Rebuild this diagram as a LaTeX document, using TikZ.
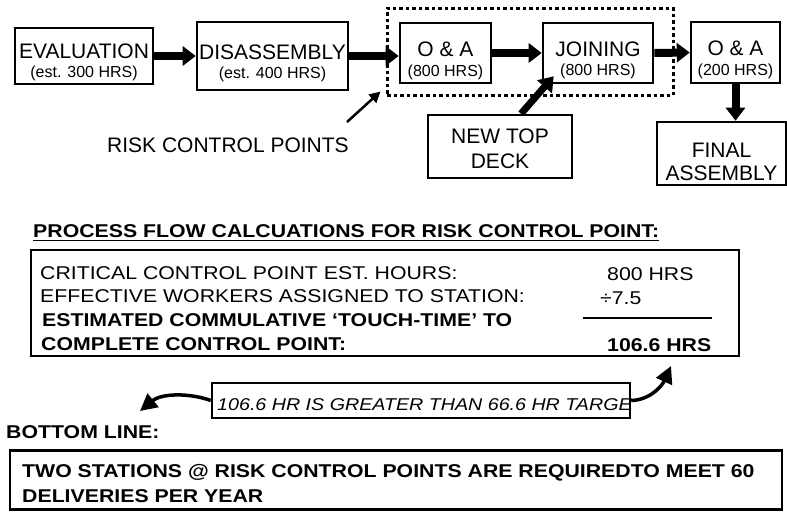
\documentclass[tikz,border=0pt]{standalone}
\usepackage{fontspec}
\setmainfont{Liberation Sans}
\newfontfamily\lowfont[FakeStretch=1.15]{Liberation Sans}
\usetikzlibrary{arrows.meta}
\tikzset{
  box/.style={draw, line width=2.6pt, inner sep=0pt},
  big/.style={font=\fontsize{21}{24}\selectfont, inner sep=0pt, anchor=base},
  small/.style={font=\fontsize{16}{18}\selectfont, inner sep=0pt, anchor=base},
  low/.style={font=\lowfont\fontsize{18.5}{21}\selectfont, inner sep=0pt, anchor=base west},
  lowb/.style={font=\lowfont\bfseries\fontsize{18.5}{21}\selectfont, inner sep=0pt, anchor=base west},
  lowi/.style={font=\lowfont\itshape\fontsize{17.1}{19}\selectfont, inner sep=0pt, anchor=base west},
  flow/.style={line width=8pt, -{Triangle[length=13pt,width=19pt]}},
  curvy/.style={line width=3.5pt, -{Triangle[length=17pt,width=17pt]}},
}
\begin{document}
\begin{tikzpicture}[x=1pt,y=-1pt]
\useasboundingbox[fill=white] (0,0) rectangle (787,512);

% top process boxes
\node[box, minimum width=138pt, minimum height=56pt] (eval) at (84,56) {};
\node[big] (evalt) at (84,58) {EVALUATION};
\node[small] (evals) at (84,77) {(est. 300 HRS)};

\node[box, minimum width=151pt, minimum height=68pt] (dis) at (272.5,56) {};
\node[big] (dist) at (272.5,59) {DISASSEMBLY};
\node[small] (diss) at (272.5,78) {(est. 400 HRS)};

\node[draw, line width=3pt, dash pattern=on 3.5pt off 3pt, minimum width=286pt, minimum height=87pt, inner sep=0pt] (group) at (530,51.5) {};

\node[box, minimum width=91pt, minimum height=60pt] (oa1) at (445.5,53) {};
\node[big] (oa1t) at (445.5,56) {O \& A};
\node[small] (oa1s) at (445.5,76) {(800 HRS)};

\node[box, minimum width=110pt, minimum height=60pt] (join) at (598,53) {};
\node[big] (joint) at (598,56) {JOINING};
\node[small] (joins) at (598,75) {(800 HRS)};

\node[box, minimum width=89pt, minimum height=61pt] (oa2) at (735.5,52.5) {};
\node[big] (oa2t) at (735.5,55) {O \& A};
\node[small] (oa2s) at (735.5,75) {(200 HRS)};

\node[box, minimum width=129pt, minimum height=63pt] (final) at (721.5,153.5) {};
\node[big] (finalt1) at (721.5,157) {FINAL};
\node[big] (finalt2) at (721.5,180) {ASSEMBLY};

\node[box, minimum width=144pt, minimum height=63pt] (ntd) at (500,146.5) {};
\node[big] (ntdt1) at (500,143) {NEW TOP};
\node[big] (ntdt2) at (500,168) {DECK};

% flow arrows
\draw[flow] (eval.east) -- (dis.west);
\draw[flow] (dis.east) -- (dis.east -| oa1.west);
\draw[flow] (oa1.east) -- (join.west);
\draw[flow] (join.east) -- (oa2.west);
\draw[flow] (oa2.south) -- (oa2.south |- final.north);
\draw[line width=7pt, -{Triangle[length=14pt,width=19pt]}] ([xshift=21pt]ntd.north) -- ([xshift=12pt,yshift=8pt]join.south west);

% risk control pointer
\node[big, anchor=base west] (risk) at (107,152) {RISK CONTROL POINTS};
\coordinate (rp0) at (347,122);
\coordinate (rp1) at ([xshift=-5pt,yshift=5pt]group.south west);
\draw[line width=2.5pt, -{Triangle[length=11pt,width=11pt]}] (rp0) -- (rp1);

% calculations
\node[lowb] (head) at (33,237) {PROCESS FLOW CALCUATIONS FOR RISK CONTROL POINT:};
\draw[line width=1.5pt] ([yshift=-3.5pt]head.base west) -- ([yshift=-3.5pt]head.base east);

\node[draw, line width=1.8pt, inner sep=0pt, minimum width=708pt, minimum height=106pt] (calc) at (385,303) {};
\node[low] (c1) at (40,279) {CRITICAL CONTROL POINT EST. HOURS:};
\node[low] (c2) at (40,302) {EFFECTIVE WORKERS ASSIGNED TO STATION:};
\node[lowb] (c3) at (42,326) {ESTIMATED COMMULATIVE ‘TOUCH-TIME’ TO};
\node[lowb] (c4) at (41,350) {COMPLETE CONTROL POINT:};
\node[low] (v1) at (607,280) {800 HRS};
\node[low] (v2) at (600,304) {÷7.5};
\draw[line width=1.2pt] (583,318) -- (712,318);
\node[lowb] (v3) at (607,351) {106.6 HRS};

% callout
\node[draw, line width=2.4pt, inner sep=0pt, minimum width=418pt, minimum height=35pt] (callout) at (421,400.5) {};
\node[lowi] (callt) at (217,410) {106.6 HR IS GREATER THAN 66.6 HR TARGE};
\coordinate (ltip) at (140,411);
\coordinate (rtip) at (671,366);
\draw[curvy] (callout.west) .. controls (190,393) and (162,393) .. (ltip);
\draw[curvy] (callout.east) .. controls (650,400) and (662,386) .. (rtip);

% bottom line
\node[lowb] (bl) at (6,438) {BOTTOM LINE:};
\node[box, minimum width=772pt, minimum height=59pt] (bottom) at (396,480) {};
\node[lowb] (b1) at (22,477) {TWO STATIONS @ RISK CONTROL POINTS ARE REQUIREDTO MEET 60};
\node[lowb] (b2) at (22,502) {DELIVERIES PER YEAR};
\end{tikzpicture}
\end{document}
